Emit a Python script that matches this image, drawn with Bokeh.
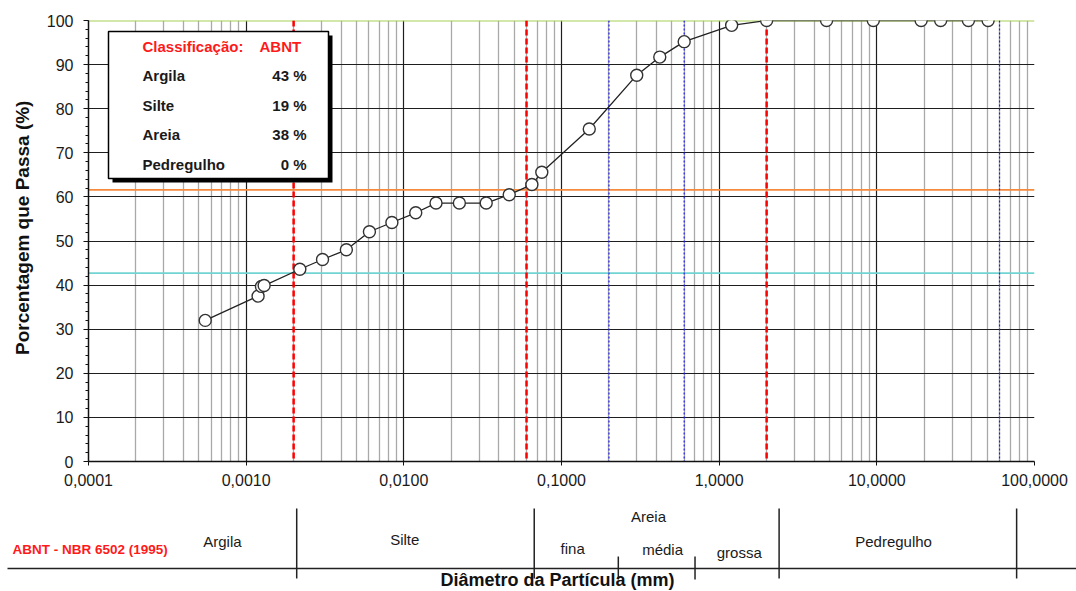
import math
from bokeh.plotting import figure
from bokeh.models import Range1d, Span, SingleIntervalTicker, FixedTicker, CustomJSTickFormatter
from bokeh.layouts import column
from bokeh.core.properties import value
from bokeh.embed import file_html
from bokeh.resources import INLINE

# ---------------- data ----------------
diameter_mm = [0.00055, 0.00119, 0.00125, 0.0013, 0.00219, 0.00305, 0.00432, 0.00605,
               0.0084, 0.0119, 0.0160, 0.0225, 0.0333, 0.0466, 0.0649, 0.075,
               0.15, 0.30, 0.42, 0.60, 1.2, 2.0, 4.8, 9.5, 19.1, 25.4, 38.1, 50.8]
passing_pct = [32.0, 37.5, 39.7, 39.9, 43.6, 45.8, 48.0, 52.1,
               54.2, 56.4, 58.6, 58.6, 58.6, 60.5, 62.8, 65.6,
               75.4, 87.6, 91.7, 95.2, 98.9, 100, 100, 100, 100, 100, 100, 100]

fractions = ["Argila", "Silte", "Areia", "Pedregulho"]
fraction_pct = [43, 19, 38, 0]

abnt_limits = [0.002, 0.06, 2.0]          # red dashed limits
sand_limits = [0.2, 0.6, 60.0]            # blue dotted limits
level_values = [42.7, 61.6, 100.0]        # passing at limits
level_colors = ["#72d4d2", "#f58a3c", "#a9cf57"]

x_ticks = [1e-4, 1e-3, 1e-2, 1e-1, 1.0, 10.0, 100.0]
x_minor = [m * 10.0 ** e for e in range(-4, 2) for m in range(2, 10)]

table_major = [0.002, 0.06, 2.0, 60.0]
table_minor = [0.2, 0.6]
table_names = ["Argila", "Silte", "Areia", "fina", "média", "grossa", "Pedregulho"]
table_name_x = [0.00069, 0.0094, 0.308, 0.104, 0.377, 1.13, 10.3]

FONT = "Liberation Sans"

# ---------------- main chart ----------------
W = 1076
H_TOP = 491
H_TAB = 100
p = figure(width=W, height=H_TOP, x_axis_type="log",
           x_range=Range1d(1e-4, 100), y_range=Range1d(0, 100),
           min_border_left=88, min_border_right=42, min_border_top=20, min_border_bottom=30,
           toolbar_location=None, output_backend="svg")
p.frame_align = False
p.outline_line_color = None
p.background_fill_color = "white"
p.border_fill_color = "white"

xt = FixedTicker(ticks=x_ticks, minor_ticks=x_minor)
yt = SingleIntervalTicker(interval=10, num_minor_ticks=5)
xa = p.xaxis[0]
ya = p.yaxis[0]
xa.ticker = xt
ya.ticker = yt
p.xgrid.ticker = xt
p.ygrid.ticker = yt

xa.formatter = CustomJSTickFormatter(code="return tick.toFixed(4).replace('.', ',');")
for ax in (xa, ya):
    ax.major_label_text_font = FONT
    ax.major_label_text_font_size = "16px"
    ax.major_label_text_color = "#1a1a1a"
    ax.axis_line_color = "#111111"
    ax.axis_line_width = 1.5
    ax.major_tick_line_color = "#111111"
    ax.major_tick_in = 0
    ax.minor_tick_in = 0
xa.major_tick_out = 4
xa.minor_tick_out = 0
xa.minor_tick_line_color = None
xa.major_label_standoff = 8
ya.major_tick_out = 5
ya.minor_tick_out = 3
ya.minor_tick_line_color = "#111111"
ya.major_label_standoff = 10

ya.axis_label = "\u00a0" * 5 + "Porcentagem que Passa (%)"
ya.axis_label_text_font = FONT
ya.axis_label_text_font_style = "bold"
ya.axis_label_text_font_size = "19px"
ya.axis_label_text_color = "#111111"
ya.axis_label_standoff = 11

p.xgrid.grid_line_color = "#1e1e1e"
p.xgrid.grid_line_width = 1.2
p.xgrid.minor_grid_line_color = "#a9a9a9"
p.xgrid.minor_grid_line_width = 1.3
p.ygrid.grid_line_color = "#1e1e1e"
p.ygrid.grid_line_width = 1.2

for v, c in zip(level_values, level_colors):
    p.add_layout(Span(location=v, dimension="width", line_color=c, line_width=1.8, level="underlay"))
for v in abnt_limits:
    p.add_layout(Span(location=v, dimension="height", line_color="#ff0000", line_width=2.5,
                      line_dash="6 3", level="underlay"))
for v in sand_limits:
    p.add_layout(Span(location=v, dimension="height", line_color="#1a1aff", line_width=1.2,
                      line_dash="2 2", level="underlay"))

p.line(diameter_mm, passing_pct, line_color="#222222", line_width=1.3)
p.scatter(diameter_mm, passing_pct, size=12, marker="circle", fill_color="white",
          line_color="#333333", line_width=1.4)

# helpers to place decorations (page pixels -> data)
def px_x(px):
    return 10 ** (-4 + (px - 88) / 157.67)

def px_y(py):
    return (461.3 - py) / 4.413

# classification box
p.quad(left=[px_x(112)], right=[px_x(332)], top=[px_y(35)], bottom=[px_y(182)],
       fill_color="black", line_color=None)
p.quad(left=[px_x(108)], right=[px_x(328)], top=[px_y(31)], bottom=[px_y(178)],
       fill_color="white", line_color="black", line_width=1.5)
p.text(x=[px_x(142)], y=[px_y(46)], text=["Classificação:"], text_font=value(FONT),
       text_font_style="bold", text_font_size="15px", text_color="#ff1a1a",
       text_baseline="middle", text_align="left")
p.text(x=[px_x(259)], y=[px_y(46)], text=["ABNT"], text_font=value(FONT),
       text_font_style="bold", text_font_size="15px", text_color="#ff1a1a",
       text_baseline="middle", text_align="left")
row_y = [px_y(75 + 29.7 * i) for i in range(len(fractions))]
p.text(x=[px_x(142)] * len(fractions), y=row_y, text=fractions, text_font=value(FONT),
       text_font_style="bold", text_font_size="15px", text_color="#1a1a1a",
       text_baseline="middle", text_align="left")
p.text(x=[px_x(306)] * len(fractions), y=row_y, text=[f"{v} %" for v in fraction_pct],
       text_font=value(FONT), text_font_style="bold", text_font_size="15px",
       text_color="#1a1a1a", text_baseline="middle", text_align="right")

# ---------------- classification table ----------------
BOT_PAGE = H_TOP + H_TAB

def tx(px):
    return 10 ** ((px - 730.2) / 160.8)

def ty(py):
    return BOT_PAGE - py

t = figure(width=W, height=H_TAB, x_axis_type="log",
           x_range=Range1d(tx(0), tx(W)), y_range=Range1d(0, H_TAB),
           min_border=0, x_axis_location=None, y_axis_location=None,
           toolbar_location=None, output_backend="svg")
t.frame_align = False
t.outline_line_color = None
t.xgrid.visible = False
t.ygrid.visible = False
t.background_fill_color = "white"
t.border_fill_color = "white"

name_y_page = [541, 539, 516, 548, 549, 552, 541]

t.segment(x0=[tx(7)], x1=[tx(W)], y0=[ty(568)], y1=[ty(568)], line_color="#222222", line_width=1.5)
t.segment(x0=table_major, x1=table_major, y0=[ty(578)] * len(table_major),
          y1=[ty(508)] * len(table_major), line_color="#222222", line_width=1.5)
t.segment(x0=table_minor, x1=table_minor, y0=[ty(579)] * len(table_minor),
          y1=[ty(556)] * len(table_minor), line_color="#222222", line_width=1.5)
t.text(x=table_name_x, y=[ty(v) for v in name_y_page], text=table_names,
       text_font=value(FONT), text_font_size="15px", text_color="#1a1a1a",
       text_align="center", text_baseline="middle")
t.text(x=[tx(12)], y=[ty(549)], text=["ABNT -  NBR 6502 (1995)"], text_font=value(FONT),
       text_font_style="bold", text_font_size="13.5px", text_color="#ff1a1a",
       text_align="left", text_baseline="middle")
t.text(x=[tx(557)], y=[ty(579)], text=["Diâmetro da Partícula (mm)"], text_font=value(FONT),
       text_font_style="bold", text_font_size="18px", text_color="#111111",
       text_align="center", text_baseline="alphabetic")

layout = column(p, t, spacing=0)
open("out.html", "w").write(file_html(layout, INLINE))
